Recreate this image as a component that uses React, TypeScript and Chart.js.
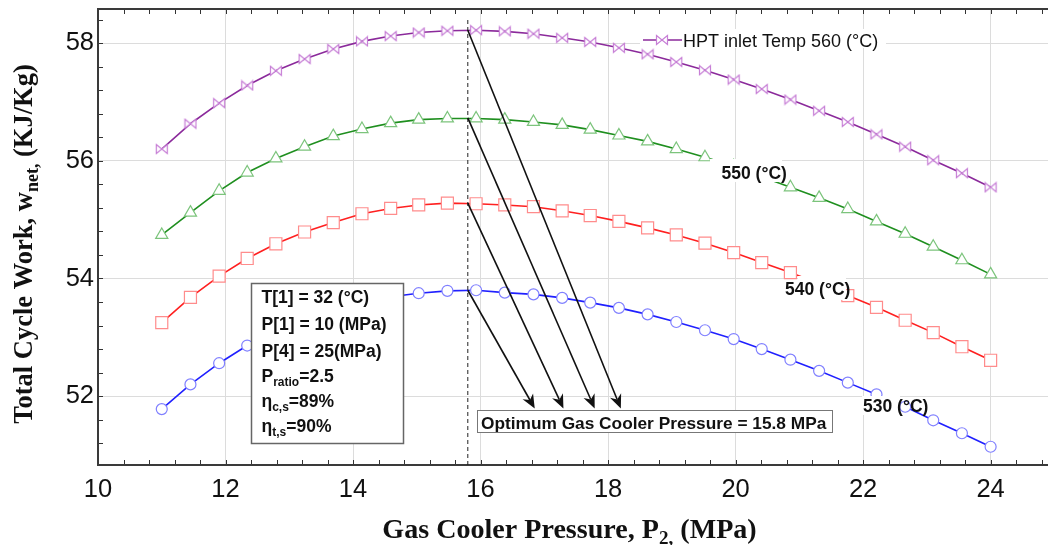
import { useEffect, useRef } from "react";
import { Chart, registerables } from "chart.js";

Chart.register(...registerables);

// Gas cooler pressure P2 (MPa)
const pressure = [
  11.0, 11.45, 11.9, 12.34, 12.79, 13.24, 13.69, 14.14, 14.59, 15.03,
  15.48, 15.93, 16.38, 16.83, 17.28, 17.72, 18.17, 18.62, 19.07, 19.52,
  19.97, 20.41, 20.86, 21.31, 21.76, 22.21, 22.66, 23.1, 23.55, 24.0,
];

// Total cycle work w_net (kJ/kg) for each HPT inlet temperature
const work560 = [
  56.2, 56.63, 56.98, 57.28, 57.53, 57.73, 57.9, 58.03, 58.12, 58.18,
  58.21, 58.22, 58.2, 58.16, 58.09, 58.02, 57.92, 57.81, 57.68, 57.54,
  57.38, 57.22, 57.04, 56.85, 56.66, 56.45, 56.24, 56.01, 55.79, 55.55,
];
const work550 = [
  54.74, 55.12, 55.49, 55.8, 56.04, 56.24, 56.42, 56.54, 56.64, 56.7,
  56.72, 56.72, 56.7, 56.66, 56.61, 56.53, 56.43, 56.33, 56.2, 56.06,
  55.91, 55.73, 55.55, 55.37, 55.18, 54.97, 54.76, 54.54, 54.31, 54.07,
];
const work540 = [
  53.25, 53.68, 54.04, 54.34, 54.59, 54.79, 54.95, 55.1, 55.19, 55.25,
  55.28, 55.27, 55.25, 55.22, 55.15, 55.07, 54.97, 54.86, 54.74, 54.6,
  54.44, 54.27, 54.1, 53.91, 53.71, 53.51, 53.29, 53.08, 52.84, 52.61,
];
const work530 = [
  51.78, 52.2, 52.56, 52.86, 53.07, 53.28, 53.45, 53.59, 53.69, 53.75,
  53.79, 53.8, 53.76, 53.73, 53.67, 53.59, 53.5, 53.39, 53.26, 53.12,
  52.97, 52.8, 52.62, 52.43, 52.23, 52.03, 51.82, 51.59, 51.37, 51.14,
];

const legendLabel = "HPT inlet Temp 560 (°C)";
const curveLabels = ["550 (°C)", "540 (°C)", "530 (°C)"];

// Optimum gas cooler pressure and the peak work on each curve (560, 550, 540, 530)
const optimumPressure = 15.8;
const optimumWork = [58.22, 56.73, 55.28, 53.8];
const arrowTipPressure = [18.2, 17.79, 17.3, 16.85];
const arrowTipWork = 51.79;
const optimumText = "Optimum Gas Cooler Pressure = 15.8 MPa";

type Part = { t: string; sub?: boolean };
const infoLines: Part[][] = [
  [{ t: "T[1] = 32 (°C)" }],
  [{ t: "P[1] = 10 (MPa)" }],
  [{ t: "P[4] = 25(MPa)" }],
  [{ t: "P" }, { t: "ratio", sub: true }, { t: "=2.5" }],
  [{ t: "η" }, { t: "c,s", sub: true }, { t: "=89%" }],
  [{ t: "η" }, { t: "t,s", sub: true }, { t: "=90%" }],
];
const xTitle: Part[] = [
  { t: "Gas Cooler Pressure, P" },
  { t: "2,", sub: true },
  { t: " (MPa)" },
];
const yTitle: Part[] = [
  { t: "Total Cycle Work, w" },
  { t: "net,", sub: true },
  { t: " (KJ/Kg)" },
];

const SANS = "'Liberation Sans', Arial, sans-serif";
const SERIF = "'Liberation Serif', 'Times New Roman', serif";

function makeBowtie(color: string) {
  const c = document.createElement("canvas");
  c.width = 14;
  c.height = 12;
  const g = c.getContext("2d")!;
  g.lineWidth = 1.2;
  g.strokeStyle = color;
  g.fillStyle = "#fff";
  const l = 1.5, r = 12.5, t = 1.5, b = 10.5, cx = 7, cy = 6;
  g.beginPath();
  g.moveTo(l, t); g.lineTo(cx, cy); g.lineTo(l, b); g.closePath();
  g.moveTo(r, t); g.lineTo(cx, cy); g.lineTo(r, b); g.closePath();
  g.fill();
  g.stroke();
  return c;
}

function drawRich(
  ctx: CanvasRenderingContext2D,
  parts: Part[],
  x: number,
  y: number,
  font: string,
  subFont: string,
  subDy: number,
  center = false
) {
  const widths = parts.map((p) => {
    ctx.font = p.sub ? subFont : font;
    return ctx.measureText(p.t).width;
  });
  const total = widths.reduce((a, b) => a + b, 0);
  let cx = center ? x - total / 2 : x;
  ctx.textAlign = "left";
  ctx.textBaseline = "alphabetic";
  parts.forEach((p, i) => {
    ctx.font = p.sub ? subFont : font;
    ctx.fillText(p.t, cx, p.sub ? y + subDy : y);
    cx += widths[i];
  });
}

function arrow(ctx: CanvasRenderingContext2D, x1: number, y1: number, x2: number, y2: number) {
  const ang = Math.atan2(y2 - y1, x2 - x1);
  const len = 14, half = 6;
  const ux = Math.cos(ang), uy = Math.sin(ang);
  const nx = -uy, ny = ux;
  const bx = x2 - ux * len, by = y2 - uy * len;
  const mx = x2 - ux * len * 0.7, my = y2 - uy * len * 0.7;
  ctx.beginPath();
  ctx.moveTo(x1, y1);
  ctx.lineTo(mx, my);
  ctx.stroke();
  ctx.beginPath();
  ctx.moveTo(x2, y2);
  ctx.lineTo(bx + nx * half, by + ny * half);
  ctx.lineTo(mx, my);
  ctx.lineTo(bx - nx * half, by - ny * half);
  ctx.closePath();
  ctx.fill();
}

function labelWithBg(
  ctx: CanvasRenderingContext2D,
  text: string,
  x: number,
  y: number,
  bg: [number, number, number, number] | null
) {
  if (bg) {
    ctx.fillStyle = "#fff";
    ctx.fillRect(bg[0], bg[1], bg[2], bg[3]);
  }
  ctx.fillStyle = "#111";
  ctx.font = `bold 17.5px ${SANS}`;
  ctx.textAlign = "left";
  ctx.textBaseline = "alphabetic";
  ctx.fillText(text, x, y);
}

const overlayPlugin = {
  id: "overlay",
  afterDraw(chart: any) {
    const { ctx, chartArea: a, scales } = chart;
    const xs = scales.x, ys = scales.y;
    ctx.save();

    // minor and major tick marks, pointing inward
    ctx.strokeStyle = "#333";
    ctx.lineWidth = 1;
    ctx.beginPath();
    for (let k = 0; k <= 40; k++) {
      const v = 10 + k * 0.4;
      if (v > xs.max + 1e-6) break;
      const x = Math.round(xs.getPixelForValue(v)) + 0.5;
      ctx.moveTo(x, a.bottom);
      ctx.lineTo(x, a.bottom - 5);
      ctx.moveTo(x, a.top);
      ctx.lineTo(x, a.top + 5);
    }
    for (let k = 0; k <= 30; k++) {
      const v = 50.8 + k * 0.4;
      if (v < ys.min - 1e-6) continue;
      if (v > ys.max + 1e-6) break;
      const y = Math.round(ys.getPixelForValue(v)) + 0.5;
      ctx.moveTo(a.left, y);
      ctx.lineTo(a.left + 5, y);
    }
    ctx.stroke();

    // axis frame (left, bottom, top)
    ctx.strokeStyle = "#3a3a3a";
    ctx.lineWidth = 2;
    ctx.beginPath();
    ctx.moveTo(a.right, a.top);
    ctx.lineTo(a.left, a.top);
    ctx.lineTo(a.left, a.bottom);
    ctx.lineTo(a.right, a.bottom);
    ctx.stroke();

    // axis titles
    ctx.fillStyle = "#111";
    ctx.save();
    ctx.translate(569.5, 538);
    ctx.scale(1.06, 1);
    drawRich(ctx, xTitle, 0, 0, `bold 26.5px ${SERIF}`, `bold 18px ${SERIF}`, 6, true);
    ctx.restore();
    ctx.save();
    ctx.translate(32, 244);
    ctx.rotate(-Math.PI / 2);
    drawRich(ctx, yTitle, 0, 0, `bold 26.5px ${SERIF}`, `bold 18px ${SERIF}`, 6, true);
    ctx.restore();

    // optimum pressure marker line
    const xo = xs.getPixelForValue(optimumPressure);
    ctx.strokeStyle = "#222";
    ctx.lineWidth = 1;
    ctx.setLineDash([4, 3]);
    ctx.beginPath();
    ctx.moveTo(xo, a.top + 11);
    ctx.lineTo(xo, a.bottom);
    ctx.stroke();
    ctx.setLineDash([]);

    // arrows from each peak to the optimum label
    ctx.strokeStyle = "#111";
    ctx.fillStyle = "#111";
    ctx.lineWidth = 1.6;
    optimumWork.forEach((w, i) => {
      arrow(
        ctx,
        xo,
        ys.getPixelForValue(w),
        xs.getPixelForValue(arrowTipPressure[i]),
        ys.getPixelForValue(arrowTipWork)
      );
    });

    // optimum label box
    ctx.fillStyle = "#fff";
    ctx.fillRect(477.5, 410.5, 355, 22);
    ctx.strokeStyle = "#777";
    ctx.lineWidth = 1;
    ctx.strokeRect(477.5, 410.5, 355, 22);
    ctx.fillStyle = "#111";
    ctx.font = `bold 17.3px ${SANS}`;
    ctx.textAlign = "left";
    ctx.textBaseline = "alphabetic";
    ctx.fillText(optimumText, 481, 429);

    // parameter box
    ctx.fillStyle = "#fff";
    ctx.fillRect(251.5, 283.5, 152, 160);
    ctx.strokeStyle = "#666";
    ctx.lineWidth = 1.5;
    ctx.strokeRect(251.5, 283.5, 152, 160);
    ctx.fillStyle = "#111";
    const baselines = [303.3, 330, 356.7, 381.7, 406.7, 431.7];
    infoLines.forEach((line, i) => {
      drawRich(ctx, line, 261.5, baselines[i], `bold 17.5px ${SANS}`, `bold 12px ${SANS}`, 4);
    });

    // legend entry
    ctx.fillStyle = "#fff";
    ctx.fillRect(640, 29, 246, 19);
    ctx.strokeStyle = "#8b2a9b";
    ctx.lineWidth = 1.6;
    ctx.beginPath();
    ctx.moveTo(643, 40);
    ctx.lineTo(682, 40);
    ctx.stroke();
    const bow = makeBowtie("#c77fd6");
    ctx.drawImage(bow, 662 - 7, 40 - 6);
    ctx.fillStyle = "#111";
    ctx.font = `18px ${SANS}`;
    ctx.fillText(legendLabel, 683, 46.5);

    // curve labels
    labelWithBg(ctx, curveLabels[0], 721.5, 179, [710, 159, 72, 23]);
    labelWithBg(ctx, curveLabels[1], 785, 295, [798, 276, 48, 24]);
    labelWithBg(ctx, curveLabels[2], 863, 411.7, [862, 396, 38, 19]);

    ctx.restore();
  },
};

export default function App() {
  const ref = useRef<HTMLCanvasElement>(null);

  useEffect(() => {
    document.body.style.margin = "0";
    const bowtie = makeBowtie("#c77fd6");
    const pts = (ys: number[]) => pressure.map((x, i) => ({ x, y: ys[i] }));

    const chart = new Chart(ref.current!, {
      type: "line",
      data: {
        datasets: [
          {
            label: legendLabel,
            data: pts(work560),
            borderColor: "#8b2a9b",
            borderWidth: 1.6,
            pointStyle: bowtie as any,
            pointRadius: 6,
            pointBackgroundColor: "#fff",
            pointBorderColor: "#c77fd6",
            tension: 0,
          },
          {
            label: curveLabels[0],
            data: pts(work550),
            borderColor: "#1f8f1f",
            borderWidth: 1.6,
            pointStyle: "triangle",
            pointRadius: 7,
            pointBorderWidth: 1.2,
            pointBackgroundColor: "#fff",
            pointBorderColor: "#7cc47c",
            tension: 0,
          },
          {
            label: curveLabels[1],
            data: pts(work540),
            borderColor: "#ff2020",
            borderWidth: 1.6,
            pointStyle: "rect",
            pointRadius: 8.5,
            pointBorderWidth: 1.2,
            pointBackgroundColor: "#fff",
            pointBorderColor: "#ff8c8c",
            tension: 0,
          },
          {
            label: curveLabels[2],
            data: pts(work530),
            borderColor: "#2020ff",
            borderWidth: 1.6,
            pointStyle: "circle",
            pointRadius: 5.5,
            pointBorderWidth: 1.2,
            pointBackgroundColor: "#fff",
            pointBorderColor: "#8080ff",
            tension: 0,
          },
        ],
      },
      options: {
        responsive: false,
        animation: false,
        events: [],
        layout: { autoPadding: false, padding: { top: 9, right: 0, left: 0, bottom: 0 } },
        plugins: { legend: { display: false }, tooltip: { enabled: false } },
        scales: {
          x: {
            type: "linear",
            min: 10,
            max: 24.9,
            ticks: {
              stepSize: 2,
              includeBounds: false,
              padding: 10,
              maxRotation: 0,
              autoSkip: false,
              color: "#111",
              font: { family: SANS, size: 25.5 },
            },
            grid: { color: "#dcdcdc", lineWidth: 1, drawTicks: false },
            border: { display: false },
            afterFit: (s: any) => {
              s.height = 80;
              s.paddingLeft = 0;
              s.paddingRight = 0;
            },
          },
          y: {
            type: "linear",
            min: 50.83,
            max: 58.58,
            ticks: {
              stepSize: 2,
              includeBounds: false,
              padding: 4,
              color: "#111",
              font: { family: SANS, size: 25.5 },
            },
            grid: { color: "#dcdcdc", lineWidth: 1, drawTicks: false },
            border: { display: false },
            afterFit: (s: any) => {
              s.width = 98;
              s.paddingTop = 0;
              s.paddingBottom = 0;
            },
          },
        },
      },
      plugins: [overlayPlugin],
    });
    return () => chart.destroy();
  }, []);

  return (
    <div style={{ position: "absolute", left: 0, top: 0, width: 1048, height: 545 }}>
      <canvas ref={ref} width={1048} height={545} style={{ display: "block" }} />
    </div>
  );
}
